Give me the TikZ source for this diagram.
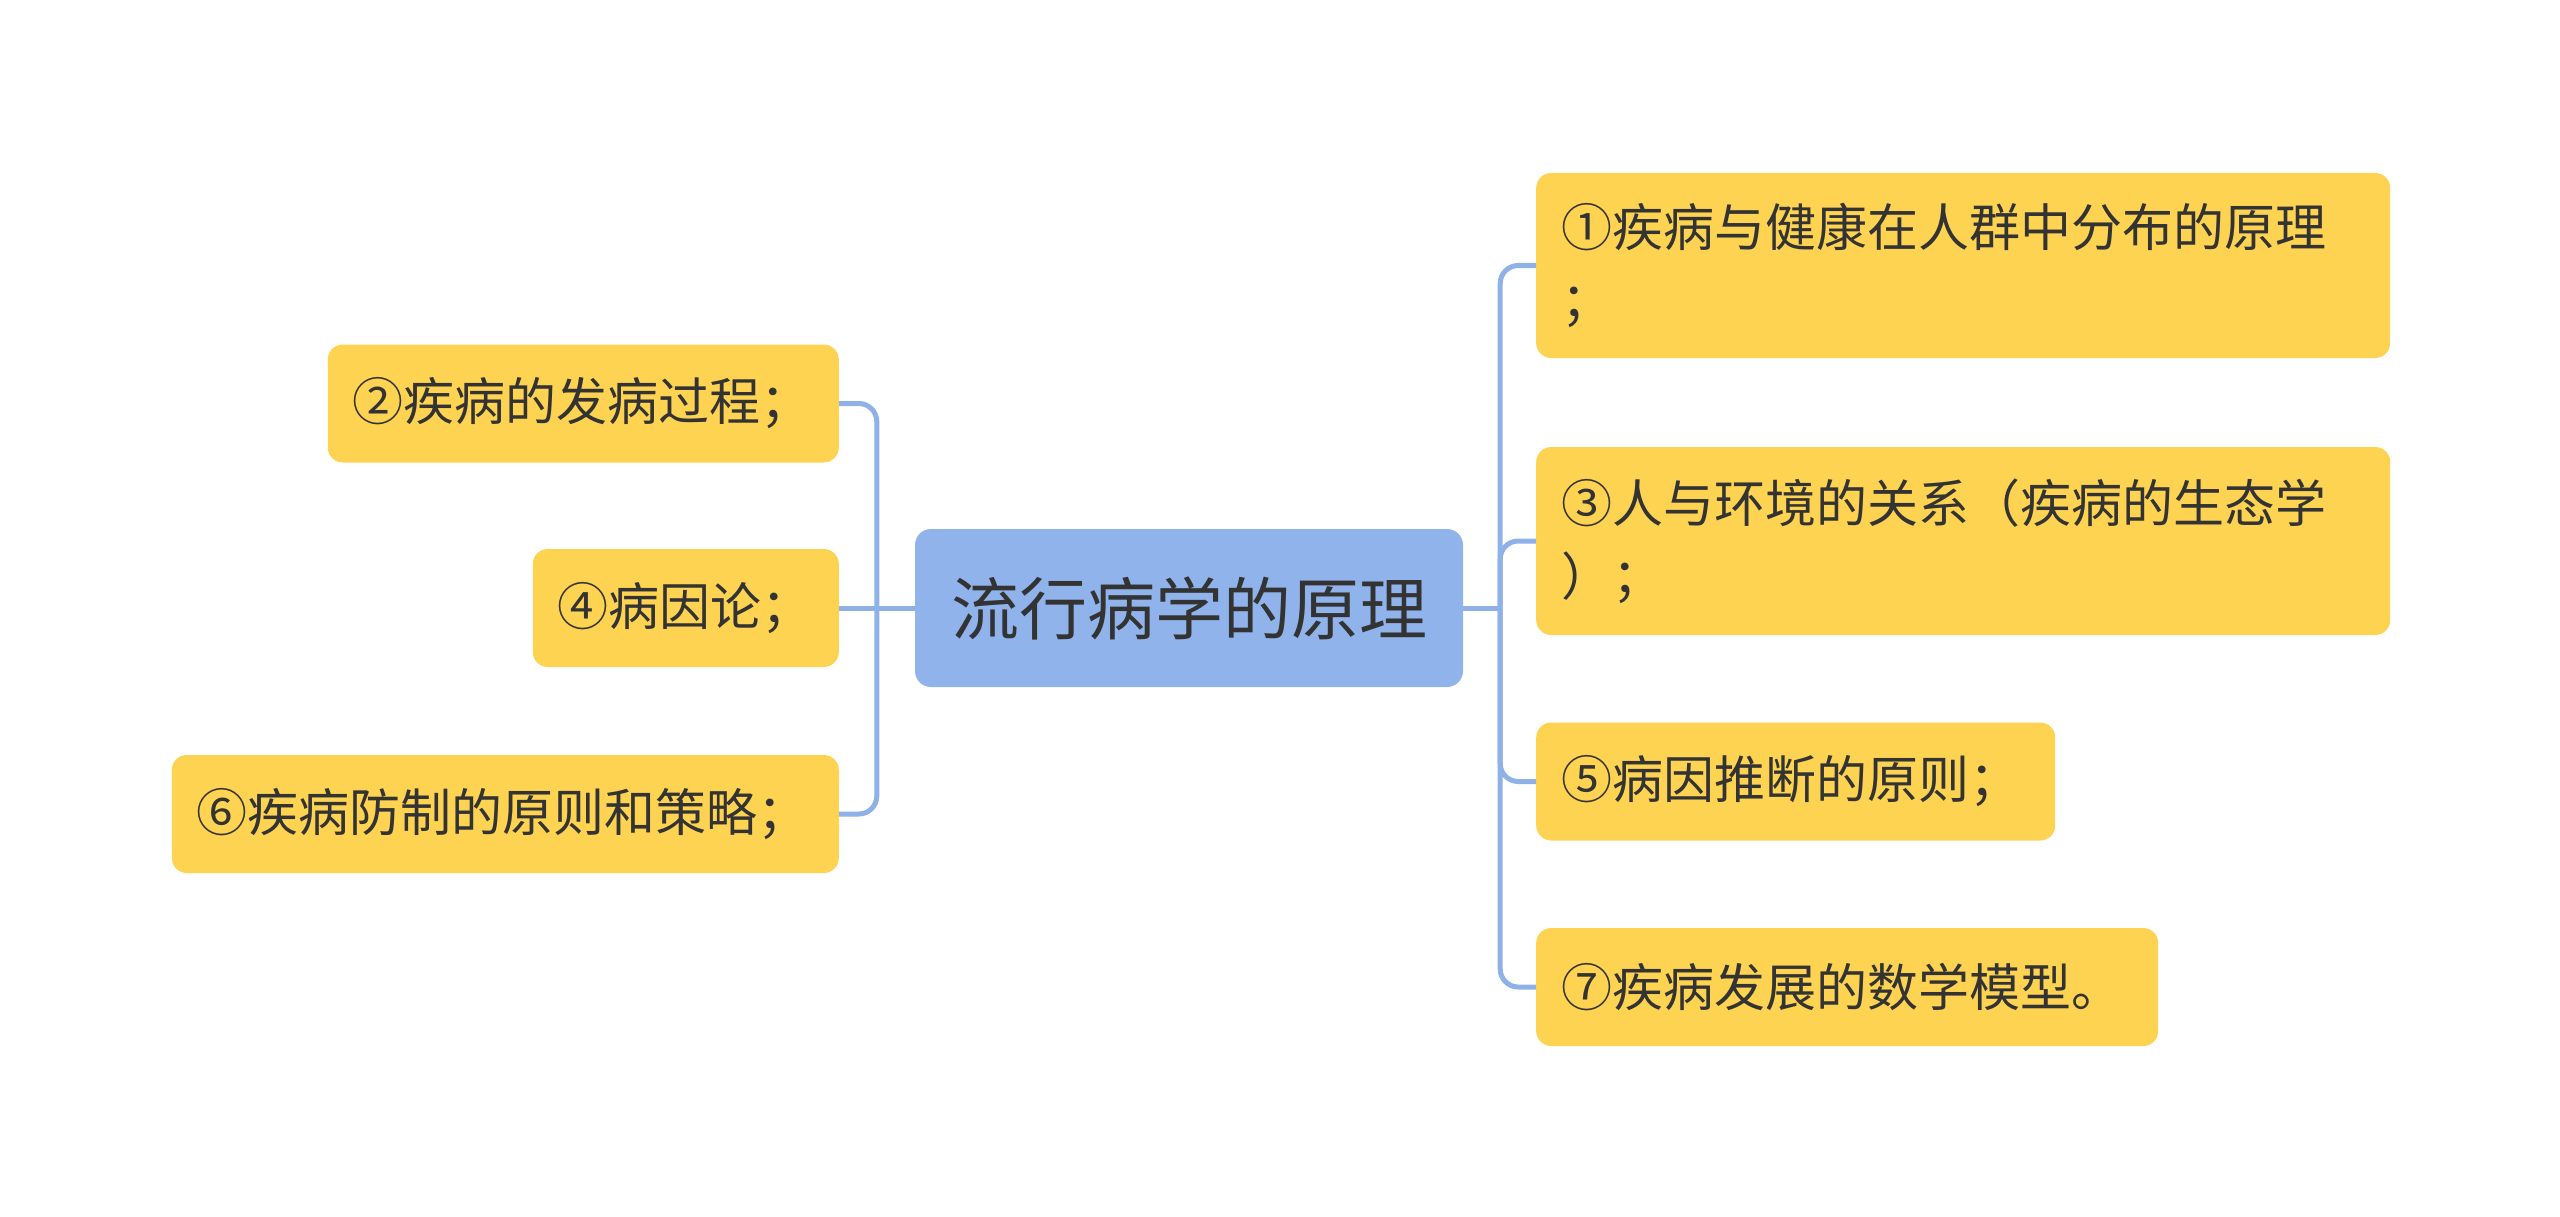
\documentclass[tikz,border=0pt]{standalone}
\usepackage{fontspec}
\newfontfamily\cjk{Noto Sans CJK SC}
\definecolor{leafyellow}{HTML}{FDD351}
\definecolor{rootblue}{HTML}{8FB3EA}
\definecolor{linkblue}{HTML}{8EB1E8}
\definecolor{txtdark}{HTML}{333333}
\tikzset{
  leafbox/.style={rectangle, rounded corners=15pt, fill=leafyellow, text=txtdark,
    inner xsep=25pt, inner ysep=0pt, minimum height=118pt, align=left,
    font=\cjk\fontsize{51}{73}\selectfont},
  rootbox/.style={rectangle, rounded corners=16pt, fill=rootblue, text=txtdark,
    inner sep=0pt, minimum width=548pt, minimum height=158pt, align=center,
    font=\cjk\fontsize{68}{80}\selectfont},
  link/.style={draw=linkblue, line width=5pt, rounded corners=18pt}
}
\begin{document}
\begin{tikzpicture}[x=1pt,y=-1pt]
\useasboundingbox (0,0) rectangle (2560,1217);
% root
\node[rootbox] (root) at (1189,608) {流行病学的原理};
% left leaves
\node[leafbox, anchor=east, text width=461pt] (n2) at (839,403.5) {②疾病的发病过程；};
\node[leafbox, anchor=east, text width=256pt] (n4) at (839,608) {④病因论；};
\node[leafbox, anchor=east, text width=617pt] (n6) at (839,814) {⑥疾病防制的原则和策略；};
% right leaves
\node[leafbox, anchor=west, text width=804pt, minimum height=185pt] (n1) at (1536,265.5) {①疾病与健康在人群中分布的原理\\；};
\node[leafbox, anchor=west, text width=804pt, minimum height=188pt] (n3) at (1536,541) {③人与环境的关系（疾病的生态学\\）；};
\node[leafbox, anchor=west, text width=469pt] (n5) at (1536,781.5) {⑤病因推断的原则；};
\node[leafbox, anchor=west, text width=572pt] (n7) at (1536,987) {⑦疾病发展的数学模型。};
% junctions
\coordinate (lj) at ([xshift=-38pt]root.west);
\coordinate (rj) at ([xshift=37pt]root.east);
% left connectors
\draw[link] (root.west) -- (n4.east);
\draw[link] (lj) |- (n2.east);
\draw[link] (lj) |- (n6.east);
% right connectors
\draw[link] (root.east) -- (rj);
\draw[link] (rj) |- (n1.west);
\draw[link] (rj) |- (n3.west);
\draw[link] (rj) |- (n5.west);
\draw[link] (rj) |- (n7.west);
\end{tikzpicture}
\end{document}
